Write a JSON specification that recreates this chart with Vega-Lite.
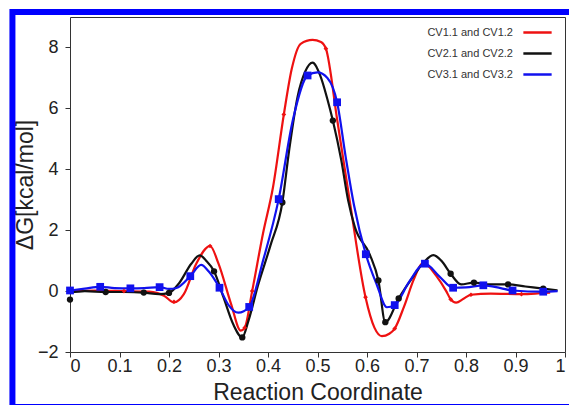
{
  "$schema": "https://vega.github.io/schema/vega-lite/v6.json",
  "width": 495,
  "height": 335,
  "autosize": {"type": "none"},
  "padding": {"left": 70, "top": 17, "right": 4, "bottom": 53},
  "background": "white",
  "config": {
    "font": "Liberation Sans",
    "view": {"stroke": "#333333", "strokeWidth": 1},
    "axis": {"domain": false, "grid": false, "tickColor": "#333333", "tickSize": 5, "labelColor": "#222222", "labelFontSize": 18, "titleFontSize": 23, "titleFontWeight": "normal", "titleColor": "#222222"},
    "axisX": {"labelPadding": 0, "titlePadding": 6},
    "axisY": {"labelPadding": 7, "titlePadding": 0}
  },
  "datasets": {
    "curves": [
      {"series": "CV1.1 and CV1.2", "x": 0, "y": 0},
      {"series": "CV1.1 and CV1.2", "x": 0.05, "y": 0.02},
      {"series": "CV1.1 and CV1.2", "x": 0.109, "y": 0.0},
      {"series": "CV1.1 and CV1.2", "x": 0.16, "y": -0.02},
      {"series": "CV1.1 and CV1.2", "x": 0.19, "y": -0.15},
      {"series": "CV1.1 and CV1.2", "x": 0.21, "y": -0.37},
      {"series": "CV1.1 and CV1.2", "x": 0.23, "y": -0.1},
      {"series": "CV1.1 and CV1.2", "x": 0.255, "y": 0.9},
      {"series": "CV1.1 and CV1.2", "x": 0.283, "y": 1.48},
      {"series": "CV1.1 and CV1.2", "x": 0.3, "y": 0.9},
      {"series": "CV1.1 and CV1.2", "x": 0.325, "y": -0.4},
      {"series": "CV1.1 and CV1.2", "x": 0.345, "y": -1.3},
      {"series": "CV1.1 and CV1.2", "x": 0.353, "y": -1.2},
      {"series": "CV1.1 and CV1.2", "x": 0.368, "y": 0.0},
      {"series": "CV1.1 and CV1.2", "x": 0.39, "y": 1.9},
      {"series": "CV1.1 and CV1.2", "x": 0.41, "y": 3.4},
      {"series": "CV1.1 and CV1.2", "x": 0.432, "y": 5.8},
      {"series": "CV1.1 and CV1.2", "x": 0.448, "y": 7.3},
      {"series": "CV1.1 and CV1.2", "x": 0.466, "y": 8.12},
      {"series": "CV1.1 and CV1.2", "x": 0.49, "y": 8.25},
      {"series": "CV1.1 and CV1.2", "x": 0.507, "y": 8.18},
      {"series": "CV1.1 and CV1.2", "x": 0.517, "y": 7.96},
      {"series": "CV1.1 and CV1.2", "x": 0.54, "y": 5.6},
      {"series": "CV1.1 and CV1.2", "x": 0.565, "y": 2.97},
      {"series": "CV1.1 and CV1.2", "x": 0.597, "y": -0.2},
      {"series": "CV1.1 and CV1.2", "x": 0.615, "y": -1.2},
      {"series": "CV1.1 and CV1.2", "x": 0.63, "y": -1.48},
      {"series": "CV1.1 and CV1.2", "x": 0.645, "y": -1.4},
      {"series": "CV1.1 and CV1.2", "x": 0.656, "y": -1.23},
      {"series": "CV1.1 and CV1.2", "x": 0.675, "y": -0.5},
      {"series": "CV1.1 and CV1.2", "x": 0.695, "y": 0.4},
      {"series": "CV1.1 and CV1.2", "x": 0.713, "y": 0.93},
      {"series": "CV1.1 and CV1.2", "x": 0.74, "y": 0.5},
      {"series": "CV1.1 and CV1.2", "x": 0.76, "y": 0.0},
      {"series": "CV1.1 and CV1.2", "x": 0.769, "y": -0.27},
      {"series": "CV1.1 and CV1.2", "x": 0.78, "y": -0.38},
      {"series": "CV1.1 and CV1.2", "x": 0.795, "y": -0.25},
      {"series": "CV1.1 and CV1.2", "x": 0.81, "y": -0.12},
      {"series": "CV1.1 and CV1.2", "x": 0.85, "y": -0.08},
      {"series": "CV1.1 and CV1.2", "x": 0.912, "y": -0.1},
      {"series": "CV1.1 and CV1.2", "x": 0.95, "y": -0.07},
      {"series": "CV1.1 and CV1.2", "x": 0.97, "y": -0.05},
      {"series": "CV2.1 and CV2.2", "x": 0, "y": -0.05},
      {"series": "CV2.1 and CV2.2", "x": 0.03, "y": 0.0},
      {"series": "CV2.1 and CV2.2", "x": 0.072, "y": -0.03},
      {"series": "CV2.1 and CV2.2", "x": 0.11, "y": -0.03},
      {"series": "CV2.1 and CV2.2", "x": 0.149, "y": -0.05},
      {"series": "CV2.1 and CV2.2", "x": 0.18, "y": -0.1},
      {"series": "CV2.1 and CV2.2", "x": 0.2, "y": -0.06},
      {"series": "CV2.1 and CV2.2", "x": 0.22, "y": 0.25},
      {"series": "CV2.1 and CV2.2", "x": 0.245, "y": 0.9},
      {"series": "CV2.1 and CV2.2", "x": 0.262, "y": 1.17},
      {"series": "CV2.1 and CV2.2", "x": 0.275, "y": 1.0},
      {"series": "CV2.1 and CV2.2", "x": 0.291, "y": 0.65},
      {"series": "CV2.1 and CV2.2", "x": 0.31, "y": -0.2},
      {"series": "CV2.1 and CV2.2", "x": 0.33, "y": -1.1},
      {"series": "CV2.1 and CV2.2", "x": 0.348, "y": -1.52},
      {"series": "CV2.1 and CV2.2", "x": 0.36, "y": -1.0},
      {"series": "CV2.1 and CV2.2", "x": 0.38, "y": 0.2},
      {"series": "CV2.1 and CV2.2", "x": 0.405, "y": 1.5},
      {"series": "CV2.1 and CV2.2", "x": 0.429, "y": 2.91},
      {"series": "CV2.1 and CV2.2", "x": 0.4425, "y": 4.6},
      {"series": "CV2.1 and CV2.2", "x": 0.46, "y": 6.4},
      {"series": "CV2.1 and CV2.2", "x": 0.475, "y": 7.2},
      {"series": "CV2.1 and CV2.2", "x": 0.49, "y": 7.5},
      {"series": "CV2.1 and CV2.2", "x": 0.505, "y": 7.1},
      {"series": "CV2.1 and CV2.2", "x": 0.52, "y": 6.3},
      {"series": "CV2.1 and CV2.2", "x": 0.531, "y": 5.6},
      {"series": "CV2.1 and CV2.2", "x": 0.548, "y": 4.3},
      {"series": "CV2.1 and CV2.2", "x": 0.562, "y": 2.97},
      {"series": "CV2.1 and CV2.2", "x": 0.5755, "y": 2.1},
      {"series": "CV2.1 and CV2.2", "x": 0.6057, "y": 1.2},
      {"series": "CV2.1 and CV2.2", "x": 0.623, "y": 0.35},
      {"series": "CV2.1 and CV2.2", "x": 0.637, "y": -1.02},
      {"series": "CV2.1 and CV2.2", "x": 0.664, "y": -0.24},
      {"series": "CV2.1 and CV2.2", "x": 0.69, "y": 0.4},
      {"series": "CV2.1 and CV2.2", "x": 0.715, "y": 0.95},
      {"series": "CV2.1 and CV2.2", "x": 0.734, "y": 1.18},
      {"series": "CV2.1 and CV2.2", "x": 0.75, "y": 1.0},
      {"series": "CV2.1 and CV2.2", "x": 0.769, "y": 0.57},
      {"series": "CV2.1 and CV2.2", "x": 0.79, "y": 0.22},
      {"series": "CV2.1 and CV2.2", "x": 0.816, "y": 0.28},
      {"series": "CV2.1 and CV2.2", "x": 0.85, "y": 0.22},
      {"series": "CV2.1 and CV2.2", "x": 0.885, "y": 0.22},
      {"series": "CV2.1 and CV2.2", "x": 0.92, "y": 0.15},
      {"series": "CV2.1 and CV2.2", "x": 0.956, "y": 0.08},
      {"series": "CV2.1 and CV2.2", "x": 0.985, "y": 0.02},
      {"series": "CV3.1 and CV3.2", "x": 0, "y": 0.02},
      {"series": "CV3.1 and CV3.2", "x": 0.03, "y": 0.08},
      {"series": "CV3.1 and CV3.2", "x": 0.061, "y": 0.14},
      {"series": "CV3.1 and CV3.2", "x": 0.09, "y": 0.1},
      {"series": "CV3.1 and CV3.2", "x": 0.122, "y": 0.09},
      {"series": "CV3.1 and CV3.2", "x": 0.15, "y": 0.1},
      {"series": "CV3.1 and CV3.2", "x": 0.181, "y": 0.13},
      {"series": "CV3.1 and CV3.2", "x": 0.2, "y": 0.07},
      {"series": "CV3.1 and CV3.2", "x": 0.215, "y": 0.1},
      {"series": "CV3.1 and CV3.2", "x": 0.243, "y": 0.49},
      {"series": "CV3.1 and CV3.2", "x": 0.265, "y": 0.86},
      {"series": "CV3.1 and CV3.2", "x": 0.28, "y": 0.65},
      {"series": "CV3.1 and CV3.2", "x": 0.302, "y": 0.11},
      {"series": "CV3.1 and CV3.2", "x": 0.32, "y": -0.45},
      {"series": "CV3.1 and CV3.2", "x": 0.34, "y": -0.71},
      {"series": "CV3.1 and CV3.2", "x": 0.362, "y": -0.52},
      {"series": "CV3.1 and CV3.2", "x": 0.39, "y": 1.0},
      {"series": "CV3.1 and CV3.2", "x": 0.4216, "y": 3.02},
      {"series": "CV3.1 and CV3.2", "x": 0.45, "y": 5.6},
      {"series": "CV3.1 and CV3.2", "x": 0.48, "y": 7.08},
      {"series": "CV3.1 and CV3.2", "x": 0.5, "y": 7.18},
      {"series": "CV3.1 and CV3.2", "x": 0.52, "y": 7.0},
      {"series": "CV3.1 and CV3.2", "x": 0.5396, "y": 6.2},
      {"series": "CV3.1 and CV3.2", "x": 0.557, "y": 4.4},
      {"series": "CV3.1 and CV3.2", "x": 0.574, "y": 2.8},
      {"series": "CV3.1 and CV3.2", "x": 0.5976, "y": 1.21},
      {"series": "CV3.1 and CV3.2", "x": 0.62, "y": 0.2},
      {"series": "CV3.1 and CV3.2", "x": 0.64, "y": -0.53},
      {"series": "CV3.1 and CV3.2", "x": 0.656, "y": -0.46},
      {"series": "CV3.1 and CV3.2", "x": 0.685, "y": 0.3},
      {"series": "CV3.1 and CV3.2", "x": 0.717, "y": 0.9},
      {"series": "CV3.1 and CV3.2", "x": 0.745, "y": 0.5},
      {"series": "CV3.1 and CV3.2", "x": 0.774, "y": 0.11},
      {"series": "CV3.1 and CV3.2", "x": 0.8, "y": 0.12},
      {"series": "CV3.1 and CV3.2", "x": 0.835, "y": 0.19},
      {"series": "CV3.1 and CV3.2", "x": 0.87, "y": 0.1},
      {"series": "CV3.1 and CV3.2", "x": 0.894, "y": 0.02},
      {"series": "CV3.1 and CV3.2", "x": 0.956, "y": -0.02},
      {"series": "CV3.1 and CV3.2", "x": 0.985, "y": 0.0}
    ],
    "markers": [
      {"curve": "CV1.1 and CV1.2", "x": 0.109, "y": 0.0},
      {"curve": "CV1.1 and CV1.2", "x": 0.21, "y": -0.35},
      {"curve": "CV1.1 and CV1.2", "x": 0.283, "y": 1.48},
      {"curve": "CV1.1 and CV1.2", "x": 0.353, "y": -1.2},
      {"curve": "CV1.1 and CV1.2", "x": 0.368, "y": 0.0},
      {"curve": "CV1.1 and CV1.2", "x": 0.432, "y": 5.8},
      {"curve": "CV1.1 and CV1.2", "x": 0.517, "y": 7.96},
      {"curve": "CV1.1 and CV1.2", "x": 0.597, "y": -0.2},
      {"curve": "CV1.1 and CV1.2", "x": 0.656, "y": -1.23},
      {"curve": "CV1.1 and CV1.2", "x": 0.769, "y": -0.27},
      {"curve": "CV1.1 and CV1.2", "x": 0.81, "y": -0.12},
      {"curve": "CV1.1 and CV1.2", "x": 0.912, "y": -0.1},
      {"curve": "CV2.1 and CV2.2", "x": 0, "y": -0.28},
      {"curve": "CV2.1 and CV2.2", "x": 0.072, "y": -0.03},
      {"curve": "CV2.1 and CV2.2", "x": 0.149, "y": -0.05},
      {"curve": "CV2.1 and CV2.2", "x": 0.2, "y": -0.06},
      {"curve": "CV2.1 and CV2.2", "x": 0.291, "y": 0.65},
      {"curve": "CV2.1 and CV2.2", "x": 0.348, "y": -1.52},
      {"curve": "CV2.1 and CV2.2", "x": 0.429, "y": 2.91},
      {"curve": "CV2.1 and CV2.2", "x": 0.531, "y": 5.6},
      {"curve": "CV2.1 and CV2.2", "x": 0.623, "y": 0.35},
      {"curve": "CV2.1 and CV2.2", "x": 0.637, "y": -1.02},
      {"curve": "CV2.1 and CV2.2", "x": 0.664, "y": -0.24},
      {"curve": "CV2.1 and CV2.2", "x": 0.769, "y": 0.57},
      {"curve": "CV2.1 and CV2.2", "x": 0.816, "y": 0.28},
      {"curve": "CV2.1 and CV2.2", "x": 0.885, "y": 0.22},
      {"curve": "CV2.1 and CV2.2", "x": 0.956, "y": 0.08},
      {"curve": "CV3.1 and CV3.2", "x": 0, "y": 0.02},
      {"curve": "CV3.1 and CV3.2", "x": 0.061, "y": 0.14},
      {"curve": "CV3.1 and CV3.2", "x": 0.122, "y": 0.09},
      {"curve": "CV3.1 and CV3.2", "x": 0.181, "y": 0.13},
      {"curve": "CV3.1 and CV3.2", "x": 0.243, "y": 0.49},
      {"curve": "CV3.1 and CV3.2", "x": 0.302, "y": 0.11},
      {"curve": "CV3.1 and CV3.2", "x": 0.362, "y": -0.52},
      {"curve": "CV3.1 and CV3.2", "x": 0.4216, "y": 3.02},
      {"curve": "CV3.1 and CV3.2", "x": 0.48, "y": 7.08},
      {"curve": "CV3.1 and CV3.2", "x": 0.5396, "y": 6.2},
      {"curve": "CV3.1 and CV3.2", "x": 0.5976, "y": 1.21},
      {"curve": "CV3.1 and CV3.2", "x": 0.656, "y": -0.46},
      {"curve": "CV3.1 and CV3.2", "x": 0.717, "y": 0.9},
      {"curve": "CV3.1 and CV3.2", "x": 0.774, "y": 0.11},
      {"curve": "CV3.1 and CV3.2", "x": 0.835, "y": 0.19},
      {"curve": "CV3.1 and CV3.2", "x": 0.894, "y": 0.02},
      {"curve": "CV3.1 and CV3.2", "x": 0.956, "y": -0.02}
    ],
    "frame": [{"part": "outer border", "x0": -0.1163, "x1": 1.0202, "y0": 9.164, "y1": -3.806}]
  },
  "layer": [
    {
      "data": {"name": "frame"},
      "mark": {"type": "rect", "fillOpacity": 0, "stroke": "#0000ff", "strokeWidth": 6, "clip": false},
      "encoding": {
        "x": {"field": "x0", "type": "quantitative", "scale": {"domain": [0, 1], "nice": false, "zero": false}},
        "x2": {"field": "x1"},
        "y": {"field": "y0", "type": "quantitative", "scale": {"domain": [-2, 9], "nice": false, "zero": false}},
        "y2": {"field": "y1"}
      }
    },
    {
      "data": {"name": "curves"},
      "mark": {"type": "line", "interpolate": "monotone", "strokeWidth": 2.2},
      "encoding": {
        "x": {"field": "x", "type": "quantitative", "scale": {"domain": [0, 1], "nice": false, "zero": false},
          "axis": {"title": "Reaction Coordinate", "values": [0, 0.1, 0.2, 0.3, 0.4, 0.5, 0.6, 0.7, 0.8, 0.9, 1], "format": ".1~f"}},
        "y": {"field": "y", "type": "quantitative", "scale": {"domain": [-2, 9], "nice": false, "zero": false},
          "axis": {"title": "ΔG[kcal/mol]", "values": [-2, 0, 2, 4, 6, 8]}},
        "color": {"field": "series", "type": "nominal",
          "scale": {"domain": ["CV1.1 and CV1.2", "CV2.1 and CV2.2", "CV3.1 and CV3.2"], "range": ["#ee1111", "#111111", "#1111ee"]},
          "legend": {"title": null, "orient": "none", "legendX": 452, "legendY": 0, "symbolType": "stroke", "symbolSize": 800, "symbolStrokeWidth": 2.5, "labelFontSize": 11, "labelColor": "#333333", "labelAlign": "right", "labelOffset": -40, "rowPadding": -6}}
      }
    },
    {
      "data": {"name": "markers"},
      "transform": [{"filter": "datum.curve === 'CV1.1 and CV1.2'"}],
      "mark": {"type": "point", "filled": true, "opacity": 1, "shape": "diamond", "size": 22, "color": "#ee1111"},
      "encoding": {"x": {"field": "x", "type": "quantitative"}, "y": {"field": "y", "type": "quantitative"}}
    },
    {
      "data": {"name": "markers"},
      "transform": [{"filter": "datum.curve === 'CV2.1 and CV2.2'"}],
      "mark": {"type": "point", "filled": true, "opacity": 1, "shape": "circle", "size": 40, "color": "#111111"},
      "encoding": {"x": {"field": "x", "type": "quantitative"}, "y": {"field": "y", "type": "quantitative"}}
    },
    {
      "data": {"name": "markers"},
      "transform": [{"filter": "datum.curve === 'CV3.1 and CV3.2'"}],
      "mark": {"type": "point", "filled": true, "opacity": 1, "shape": "square", "size": 60, "color": "#1111ee"},
      "encoding": {"x": {"field": "x", "type": "quantitative"}, "y": {"field": "y", "type": "quantitative"}}
    }
  ]
}
